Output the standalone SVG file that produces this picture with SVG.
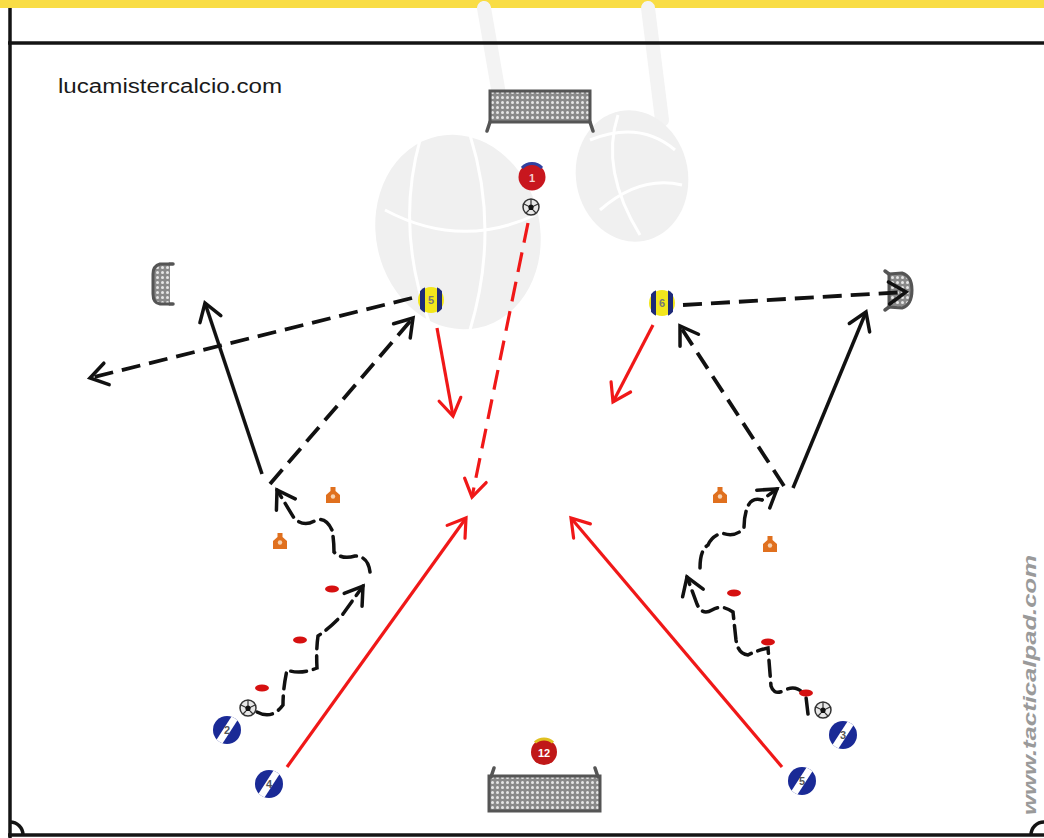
<svg xmlns="http://www.w3.org/2000/svg" width="1044" height="838" viewBox="0 0 1044 838">
  <style>
    .field { fill: none; stroke: #141414; stroke-width: 3.5; }
    .wm { fill: #f0f0f0; }
    .wmline { fill: none; stroke: #f3f3f3; stroke-width: 14; stroke-linecap: round; }
    .seam { fill: none; stroke: #ffffff; stroke-width: 3; }
    .blk { fill: none; stroke: #111; stroke-width: 3.5; stroke-linecap: butt; }
    .blk-dash { fill: none; stroke: #111; stroke-width: 3.8; stroke-dasharray: 19 9; }
    .dribble { fill: none; stroke: #111; stroke-width: 3.5; stroke-dasharray: 16 7; stroke-linecap: round; }
    .red { fill: none; stroke: #f01818; stroke-width: 3.2; }
    .red-dash { fill: none; stroke: #f01818; stroke-width: 3.2; stroke-dasharray: 20 10; }
    .num { font-family: "Liberation Sans", Arial, sans-serif; font-size: 11px; font-weight: bold; text-anchor: middle; }
    .net { fill: url(#netPat); stroke: #555; stroke-width: 3; }
    .post { fill: none; stroke: #555; stroke-width: 3.5; stroke-linecap: round; }
    .cone { fill: #e0701e; }
    .disc { fill: #d61010; }
  </style>
  <defs>
    <pattern id="netPat" width="5" height="5" patternUnits="userSpaceOnUse">
      <rect width="5" height="5" fill="#8a8a8a"/>
      <circle cx="2.5" cy="2.5" r="1.5" fill="#e6e6e6"/>
    </pattern>
    <clipPath id="tokenClip"><circle r="14"/></clipPath>
    <marker id="arrowK" viewBox="-20 -14 24 28" refX="0" refY="0" markerWidth="24" markerHeight="28" markerUnits="userSpaceOnUse" orient="auto">
      <path d="M-17,-11 L0,0 L-17,11" fill="none" stroke="#111" stroke-width="3.5" stroke-linecap="round" stroke-linejoin="miter"/>
    </marker>
    <marker id="arrowR" viewBox="-20 -14 24 28" refX="0" refY="0" markerWidth="24" markerHeight="28" markerUnits="userSpaceOnUse" orient="auto">
      <path d="M-17,-11 L0,0 L-17,11" fill="none" stroke="#f01818" stroke-width="3.2" stroke-linecap="round"/>
    </marker>
    <g id="ball">
      <circle r="8" fill="#e8e8e8" stroke="#333" stroke-width="1.5"/>
      <path d="M0,-3 L3,-1 L2,3 L-2,3 L-3,-1 Z" fill="#111"/>
      <path d="M0,-8 L0,-3 M3,-1 L7,-3 M2,3 L5,6 M-2,3 L-5,6 M-3,-1 L-7,-3" stroke="#333" stroke-width="1.2"/>
    </g>
    <g id="coneShape">
      <path class="cone" d="M-7,8 L-7,0 L-2.5,-4 L-2.5,-8 L2.5,-8 L2.5,-4 L7,0 L7,8 Z"/>
      <circle r="2.2" cy="1.5" fill="#f6d2b0"/>
    </g>
  </defs>

  <!-- background and banner -->
  <rect width="1044" height="838" fill="#ffffff"/>
  <rect x="0" y="0" width="1044" height="8" fill="#f9dd45"/>

  <!-- faint watermark artwork -->
  <g id="watermark">
    <path class="wmline" d="M484,8 L500,100"/>
    <path class="wmline" d="M648,8 L662,120"/>
    <ellipse class="wm" cx="458" cy="232" rx="82" ry="98" transform="rotate(-12 458 232)"/>
    <path class="seam" d="M420,140 Q395,230 430,325"/>
    <path class="seam" d="M470,135 Q500,230 470,330"/>
    <path class="seam" d="M385,210 Q460,250 535,215"/>
    <ellipse class="wm" cx="632" cy="176" rx="56" ry="66" transform="rotate(-10 632 176)"/>
    <path class="seam" d="M590,140 Q640,120 675,150"/>
    <path class="seam" d="M600,210 Q640,175 682,185"/>
    <path class="seam" d="M618,115 Q600,170 640,235"/>
  </g>

  <!-- pitch lines -->
  <g id="pitch">
    <line class="field" x1="8" y1="43" x2="1044" y2="43"/>
    <line class="field" x1="10" y1="8" x2="10" y2="838"/>
    <line class="field" x1="8" y1="835" x2="1044" y2="835"/>
    <path class="field" d="M10,822 A13,13 0 0 1 23,835"/>
    <path class="field" d="M1044,822 A13,13 0 0 0 1031,835"/>
  </g>

  <text x="58" y="93" font-family="'Liberation Sans', Arial, sans-serif" font-size="20" fill="#1a1a1a" textLength="224" lengthAdjust="spacingAndGlyphs">lucamistercalcio.com</text>
  <text transform="translate(1036,815) rotate(-90)" font-family="'Liberation Sans', Arial, sans-serif" font-size="19" font-style="italic" font-weight="bold" fill="#9a9a9a" textLength="260" lengthAdjust="spacingAndGlyphs">www.tacticalpad.com</text>

  <!-- goals -->
  <g id="goal-top">
    <rect class="net" x="490" y="91" width="100" height="31"/>
    <path class="post" d="M490,122 L487,131 M590,122 L593,131"/>
  </g>
  <g id="goal-bottom">
    <rect class="net" x="489" y="776" width="111" height="35"/>
    <path class="post" d="M491,777 L494,768 M598,777 L595,768"/>
  </g>
  <g id="goal-left">
    <path class="net" d="M170,264 L160,264 Q153,266 153,274 L153,294 Q153,303 160,304 L170,304"/>
    <path class="post" d="M170,264 L173,264 M170,304 L173,304"/>
  </g>
  <g id="goal-right">
    <path class="net" d="M889,274 L902,273 Q912,276 912,290 Q912,305 902,308 L889,307 Z"/>
    <path class="post" d="M889,274 L885,271 M889,307 L885,310"/>
  </g>

  <!-- connectors -->
  <g id="connectors">
    <!-- left side -->
    <line class="blk" x1="262" y1="474" x2="205" y2="303" marker-end="url(#arrowK)"/>
    <line class="blk-dash" x1="270" y1="484" x2="413" y2="318" marker-end="url(#arrowK)"/>
    <line class="blk-dash" x1="412" y1="298" x2="90" y2="378" marker-end="url(#arrowK)"/>
    <line class="red" x1="437" y1="328" x2="453" y2="416" marker-end="url(#arrowR)"/>
    <line class="red-dash" x1="528" y1="223" x2="472" y2="497" marker-end="url(#arrowR)"/>
    <line class="red" x1="287" y1="767" x2="466" y2="518" marker-end="url(#arrowR)"/>
    <path class="dribble" d="M257,712 Q272,720 283,705 Q283,688 287,670 Q300,675 317,668 Q316,650 318,636 Q330,628 343,614 L363,586" marker-end="url(#arrowK)"/>
    <path class="dribble" d="M370,572 Q368,556 355,556 Q342,560 334,552 Q334,540 332,530 Q326,517 316,520 Q304,528 294,518 L277,490" marker-end="url(#arrowK)"/>

    <!-- right side -->
    <line class="red" x1="653" y1="325" x2="613" y2="402" marker-end="url(#arrowR)"/>
    <line class="blk-dash" x1="683" y1="305" x2="906" y2="292" marker-end="url(#arrowK)"/>
    <line class="blk-dash" x1="784" y1="486" x2="680" y2="326" marker-end="url(#arrowK)"/>
    <line class="blk" x1="793" y1="488" x2="866" y2="312" marker-end="url(#arrowK)"/>
    <line class="red" x1="782" y1="767" x2="571" y2="518" marker-end="url(#arrowR)"/>
    <path class="dribble" d="M808,714 L806,697 Q798,684 785,690 Q774,696 771,686 L768,648 Q758,650 748,655 Q738,654 736,640 L733,612 Q722,604 712,610 Q702,616 697,604 L687,577" marker-end="url(#arrowK)"/>
    <path class="dribble" d="M700,568 Q700,550 708,545 Q712,536 722,533 Q735,538 744,528 Q744,515 748,506 Q752,497 762,500 L777,489" marker-end="url(#arrowK)"/>
  </g>

  <!-- cones and markers -->
  <g id="cones">
    <use href="#coneShape" x="333" y="495"/>
    <use href="#coneShape" x="280" y="541"/>
    <use href="#coneShape" x="720" y="495"/>
    <use href="#coneShape" x="770" y="544"/>
    <ellipse class="disc" cx="262" cy="688" rx="7" ry="3.5"/>
    <ellipse class="disc" cx="300" cy="640" rx="7" ry="3.5"/>
    <ellipse class="disc" cx="332" cy="589" rx="7" ry="3.5"/>
    <ellipse class="disc" cx="734" cy="593" rx="7" ry="3.5"/>
    <ellipse class="disc" cx="768" cy="642" rx="7" ry="3.5"/>
    <ellipse class="disc" cx="806" cy="693" rx="7" ry="3.5"/>
  </g>

  <!-- balls -->
  <g id="balls">
    <use href="#ball" x="531" y="207"/>
    <use href="#ball" x="248" y="708"/>
    <use href="#ball" x="823" y="710"/>
  </g>

  <!-- players -->
  <g id="player-1" transform="translate(532,177)">
    <circle r="13.5" fill="#c8161e"/>
    <path d="M-10,-9 A13.5,13.5 0 0 1 10,-9" fill="none" stroke="#3040a0" stroke-width="3"/>
    <text class="num" y="4.5" fill="#f4d0d0">1</text>
  </g>
  <g id="player-12" transform="translate(544,752)">
    <circle r="13" fill="#c01818"/>
    <path d="M-9,-9.5 A13,13 0 0 1 9,-9.5" fill="none" stroke="#e0c020" stroke-width="3"/>
    <text class="num" y="4.5" fill="#ffffff">12</text>
  </g>
  <g id="player-5y" transform="translate(431,300)">
    <circle r="13" fill="#f2e61c"/>
    <g clip-path="url(#tokenClip)">
      <rect x="-11" y="-14" width="5" height="28" fill="#1e2a78"/>
      <rect x="6" y="-14" width="5" height="28" fill="#1e2a78"/>
    </g>
    <text class="num" y="4" fill="#777">5</text>
  </g>
  <g id="player-6y" transform="translate(662,303)">
    <circle r="13" fill="#f2e61c"/>
    <g clip-path="url(#tokenClip)">
      <rect x="-11" y="-14" width="5" height="28" fill="#1e2a78"/>
      <rect x="6" y="-14" width="5" height="28" fill="#1e2a78"/>
    </g>
    <text class="num" y="4" fill="#777">6</text>
  </g>
  <g id="player-2" transform="translate(227,730)">
    <circle r="14" fill="#1a2a96"/>
    <line x1="9" y1="-14" x2="-9" y2="14" stroke="#ffffff" stroke-width="7" clip-path="url(#tokenClip)"/>
    <text class="num" y="4" fill="#555">2</text>
  </g>
  <g id="player-4" transform="translate(269,784)">
    <circle r="14" fill="#1a2a96"/>
    <line x1="9" y1="-14" x2="-9" y2="14" stroke="#ffffff" stroke-width="7" clip-path="url(#tokenClip)"/>
    <text class="num" y="4" fill="#555">4</text>
  </g>
  <g id="player-3" transform="translate(843,735)">
    <circle r="14" fill="#1a2a96"/>
    <line x1="9" y1="-14" x2="-9" y2="14" stroke="#ffffff" stroke-width="7" clip-path="url(#tokenClip)"/>
    <text class="num" y="4" fill="#555">3</text>
  </g>
  <g id="player-5b" transform="translate(802,781)">
    <circle r="14" fill="#1a2a96"/>
    <line x1="9" y1="-14" x2="-9" y2="14" stroke="#ffffff" stroke-width="7" clip-path="url(#tokenClip)"/>
    <text class="num" y="4" fill="#555">5</text>
  </g>
</svg>
